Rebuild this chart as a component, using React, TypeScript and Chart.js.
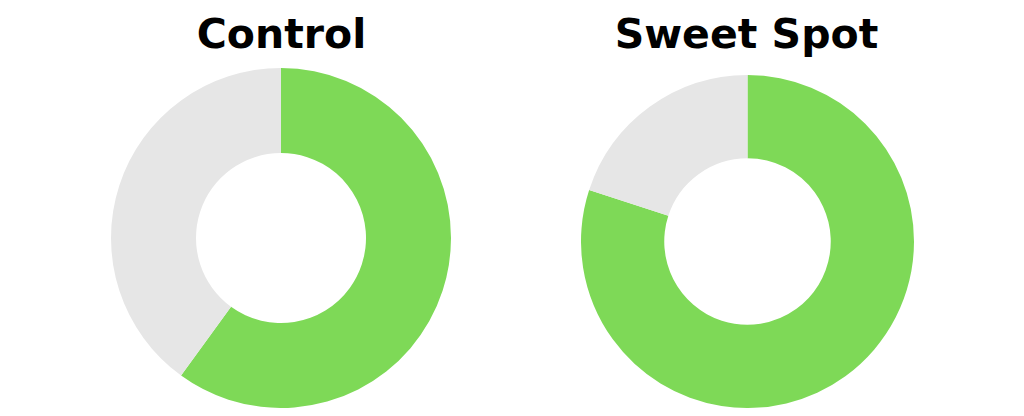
import React, { useEffect, useRef } from 'react';
import { Chart, registerables } from 'chart.js';

Chart.register(...registerables);

// segment names (legend is hidden in the picture)
const segmentLabels = ['Share', 'Remainder'];
const controlValues = [60, 40];
const sweetSpotValues = [80, 20];
const panelTitles = ['Control', 'Sweet Spot'];

const segmentColors = ['#7ED957', '#E6E6E6'];
const titleFont = '"DejaVu Sans", "Open Sans", sans-serif';

interface DonutProps {
  values: number[];
  left: number;
  top: number;
  size: number;
  label: string;
}

const Donut: React.FC<DonutProps> = ({ values, left, top, size, label }) => {
  const canvasRef = useRef<HTMLCanvasElement>(null);

  useEffect(() => {
    if (!canvasRef.current) return;
    const chart = new Chart(canvasRef.current, {
      type: 'doughnut',
      data: {
        labels: segmentLabels,
        datasets: [
          {
            data: values,
            backgroundColor: segmentColors,
            borderWidth: 0,
            hoverOffset: 0,
          },
        ],
      },
      options: {
        responsive: false,
        animation: false,
        cutout: '50%',
        layout: { padding: 0 },
        plugins: {
          legend: { display: false },
          tooltip: { enabled: false },
          title: { display: false },
        },
      },
    });
    return () => chart.destroy();
  }, [values]);

  return (
    <canvas
      ref={canvasRef}
      width={size}
      height={size}
      aria-label={label}
      role="img"
      style={{ position: 'absolute', left, top, width: size, height: size }}
    />
  );
};

const Title: React.FC<{ text: string; centerX: number }> = ({ text, centerX }) => (
  <div
    style={{
      position: 'absolute',
      left: centerX - 200,
      width: 400,
      top: 13.6,
      textAlign: 'center',
      fontFamily: titleFont,
      fontWeight: 700,
      fontSize: 41,
      lineHeight: '41px',
      color: '#000',
      whiteSpace: 'nowrap',
    }}
  >
    {text}
  </div>
);

export default function App() {
  return (
    <div
      style={{
        position: 'fixed',
        left: 0,
        top: 0,
        width: 1024,
        height: 416,
        background: '#fff',
        overflow: 'hidden',
      }}
    >
      <Title text={panelTitles[0]} centerX={281.5} />
      <Title text={panelTitles[1]} centerX={746.5} />
      <Donut values={controlValues} left={110.5} top={68.3} size={340} label={panelTitles[0]} />
      <Donut values={sweetSpotValues} left={580.7} top={74.7} size={333} label={panelTitles[1]} />
    </div>
  );
}
